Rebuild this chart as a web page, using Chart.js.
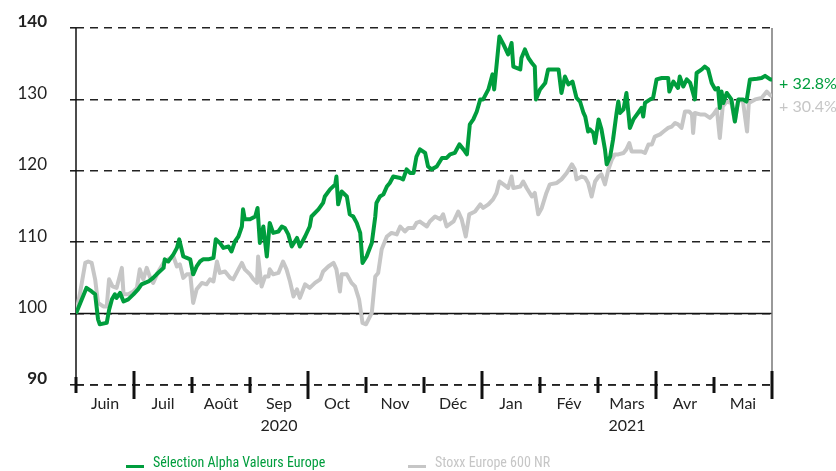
<!DOCTYPE html>
<html>
<head>
<meta charset="utf-8">
<script src="https://cdn.jsdelivr.net/npm/chart.js@4.4.1/dist/chart.umd.min.js"></script>
<style>
  html, body { margin: 0; padding: 0; background: #fff; }
  #wrap { position: relative; width: 836px; height: 471px; overflow: hidden; }
  #legend { position: absolute; left: 0; top: 454px; width: 836px; height: 22px;
            font-family: "Liberation Sans Narrow", "Roboto Condensed", "Liberation Sans", sans-serif; font-size: 14px; }
  .item { position: absolute; top: 0; white-space: nowrap; }
  .item i { display: inline-block; width: 18px; height: 3px; vertical-align: middle; margin-right: 9px; position: relative; top: 3px; }
</style>
</head>
<body>
<div id="wrap">
  <canvas id="myChart" width="836" height="471"></canvas>
  <div id="legend"></div>
</div>
<script>
// month labels between the month ticks (ticks sit at 0..12)
const months = ['Juin', 'Juil', 'Août', ['Sep', '2020'], 'Oct', 'Nov', 'Déc', 'Jan', 'Fév', ['Mars', '2021'], 'Avr', 'Mai'];
const quarterTicks = [1, 4, 7, 10, 12];
const yTicks = [90, 100, 110, 120, 130, 140];
const baseLine = 100;

const seriesNames = ['Sélection Alpha Valeurs Europe', 'Stoxx Europe 600 NR'];
const seriesColors = ['#009d3d', '#c6c6c6'];
const legendLeft = [126, 408];

// time in months since 1 June 2020
const alphaT = [0, 0.18, 0.27, 0.33, 0.38, 0.41, 0.53, 0.57, 0.62, 0.67, 0.70, 0.76, 0.82, 0.90, 0.99,
  1.07, 1.13, 1.25, 1.33, 1.39, 1.51, 1.53, 1.59, 1.68, 1.74, 1.78, 1.85, 1.91, 1.97,
  2.02, 2.08, 2.14, 2.19, 2.28, 2.37, 2.41, 2.48, 2.54, 2.63, 2.68, 2.74, 2.80, 2.86, 2.88, 2.91,
  3.00, 3.09, 3.13, 3.17, 3.23, 3.29, 3.34, 3.40, 3.49, 3.55, 3.60, 3.66, 3.72, 3.81, 3.86, 3.95,
  4.03, 4.06, 4.18, 4.26, 4.29, 4.38, 4.47, 4.49, 4.52, 4.58, 4.67, 4.72, 4.78, 4.84, 4.90, 4.94,
  5.01, 5.10, 5.16, 5.18, 5.24, 5.30, 5.36, 5.41, 5.47, 5.59, 5.64, 5.70, 5.76, 5.82, 5.87, 5.93,
  6.02, 6.07, 6.13, 6.22, 6.31, 6.39, 6.45, 6.53, 6.61, 6.68, 6.74, 6.79, 6.85, 6.91, 6.97,
  7.02, 7.11, 7.18, 7.21, 7.30, 7.37, 7.45, 7.51, 7.54, 7.66, 7.68, 7.74, 7.80, 7.86, 7.91, 7.93,
  8.00, 8.09, 8.14, 8.32, 8.37, 8.43, 8.49, 8.56, 8.63, 8.69, 8.75, 8.78, 8.83, 8.86, 8.92, 8.95,
  9.01, 9.06, 9.12, 9.15, 9.21, 9.26, 9.32, 9.35, 9.38, 9.44, 9.49, 9.55, 9.61, 9.69, 9.75, 9.78, 9.81, 9.90, 9.95,
  10.01, 10.10, 10.21, 10.23, 10.30, 10.38, 10.41, 10.47, 10.53, 10.59, 10.67, 10.70, 10.79, 10.84, 10.90, 10.96,
  11.02, 11.07, 11.10, 11.13, 11.16, 11.22, 11.30, 11.36, 11.42, 11.50, 11.56, 11.62, 11.74, 11.82, 11.88, 11.97, 12];
const alphaV = [100, 103.6, 103.1, 102.7, 99.2, 98.5, 98.7, 100.5, 102, 102.7, 102.2, 102.9, 101.7, 102, 102.7,
  103.4, 104.1, 104.5, 105, 105.5, 106.4, 107.6, 107.3, 108.3, 109.2, 110.4, 108, 107.8, 107.6,
  105.5, 106.6, 107.3, 107.6, 107.6, 107.8, 110.4, 109.9, 109.2, 109.4, 108.7, 110.1, 110.8, 112.2, 114.6, 113.2,
  113.2, 113.6, 114.8, 109.9, 112.2, 108, 112.7, 111.3, 111.5, 112.2, 112, 111.1, 109.4, 110.6, 109.4, 110.8,
  112.2, 113.6, 114.6, 115.5, 116.4, 117.4, 118.1, 119.2, 115.3, 117.1, 116.4, 113.9, 113.6, 112.7, 111.3, 107.1,
  108, 109.9, 113.6, 115.5, 116.4, 116.7, 117.8, 118.3, 119.2, 119, 118.8, 120.2, 119.7, 119.7, 122, 123,
  122.5, 120.6, 120.2, 120.6, 121.8, 121.8, 122.3, 122.5, 123.7, 123, 122.3, 126.5, 127.2, 128.3, 130,
  130, 131.4, 133.5, 131.4, 138.8, 137.7, 136.3, 137.9, 134.6, 134.2, 135.8, 137, 135.8, 135.1, 134.6, 130,
  131.4, 132.3, 134.2, 134.2, 130.9, 133.2, 132.1, 132.5, 130.2, 129.7, 128.1, 127.6, 125.5, 125.8, 125.3, 123.9,
  127.2, 125.8, 123, 120.9, 122, 124.4, 128.1, 129.7, 128.1, 128.6, 130.9, 126, 127.2, 128.1, 128.8, 127.6, 129.5, 130, 130.2,
  132.8, 133, 133, 131.1, 132.5, 131.6, 133.2, 131.8, 132.8, 132.3, 130, 133.7, 134.2, 134.6, 134.2, 132.3,
  131.4, 131.6, 128.8, 131.1, 129.5, 130.9, 130, 126.9, 130, 130, 129.7, 132.8, 132.9, 133, 133.3, 132.8, 132.8];

const stoxxT = [0, 0.07, 0.16, 0.21, 0.27, 0.33, 0.38, 0.47, 0.53, 0.57, 0.63, 0.70, 0.79, 0.82, 0.90, 0.99,
  1.05, 1.10, 1.16, 1.22, 1.28, 1.33, 1.42, 1.51, 1.59, 1.68, 1.74, 1.79, 1.85, 1.91, 1.97,
  2.02, 2.08, 2.17, 2.25, 2.31, 2.37, 2.43, 2.48, 2.57, 2.66, 2.71, 2.80, 2.86, 2.91,
  3.00, 3.06, 3.12, 3.14, 3.20, 3.26, 3.32, 3.34, 3.40, 3.49, 3.57, 3.63, 3.69, 3.75, 3.81, 3.86, 3.95,
  4.03, 4.12, 4.21, 4.26, 4.35, 4.44, 4.49, 4.55, 4.58, 4.67, 4.75, 4.81, 4.88, 4.94,
  5.00, 5.10, 5.16, 5.21, 5.27, 5.36, 5.44, 5.53, 5.59, 5.67, 5.73, 5.82, 5.87, 5.93, 5.96,
  6.05, 6.10, 6.19, 6.28, 6.33, 6.39, 6.51, 6.59, 6.65, 6.72, 6.78, 6.88, 6.97,
  7.02, 7.11, 7.19, 7.25, 7.30, 7.37, 7.45, 7.51, 7.54, 7.66, 7.71, 7.77, 7.86, 7.91, 7.97,
  8.03, 8.11, 8.17, 8.29, 8.37, 8.46, 8.55, 8.60, 8.63, 8.72, 8.78, 8.83, 8.89, 8.95,
  9.01, 9.06, 9.12, 9.18, 9.24, 9.29, 9.35, 9.44, 9.49, 9.54, 9.58, 9.67, 9.75, 9.81, 9.87, 9.93, 9.98,
  10.07, 10.13, 10.21, 10.27, 10.33, 10.38, 10.44, 10.50, 10.57, 10.62, 10.64, 10.67, 10.76, 10.84, 10.93, 10.99,
  11.05, 11.10, 11.15, 11.22, 11.30, 11.36, 11.42, 11.50, 11.57, 11.60, 11.71, 11.82, 11.91, 11.97, 12];
const stoxxV = [100, 102.9, 107.1, 107.3, 107.1, 104.8, 101.5, 101, 101, 104.8, 103.8, 103.6, 106.4, 102.7, 102.7, 103.1,
  103.6, 106.2, 104.8, 106.4, 105, 104.3, 105.9, 107.1, 107.6, 108, 106.6, 106.9, 105, 105.5, 105.5,
  101.5, 103.4, 104.3, 104.1, 104.8, 104.5, 107.3, 105.7, 105.9, 105, 104.8, 106.2, 107.1, 106.2,
  105.5, 104.8, 104.3, 108, 103.8, 105.2, 105.2, 106.2, 105.5, 105.7, 107.3, 106.2, 104.5, 102.4, 103.4, 102.2, 104.1,
  103.6, 104.3, 104.8, 105.9, 106.6, 107.1, 106.2, 103.1, 105.5, 105.5, 104.3, 103.8, 102, 98.7,
  98.5, 100.1, 105.2, 105.7, 109, 110.8, 111.3, 111.1, 112.2, 111.5, 112, 112, 112.7, 112.9, 112.7,
  112.2, 112.9, 113.6, 113.2, 113.9, 112.2, 112.9, 114.3, 113.2, 110.8, 113.9, 114.3, 115.3,
  114.8, 115.3, 116, 116.9, 118.5, 118.1, 117.6, 119.2, 117.6, 117.8, 118.5, 117.6, 116.4, 116.9, 113.9,
  114.8, 116.9, 118.1, 118.3, 118.8, 119.7, 120.9, 120.2, 118.8, 119.2, 119, 118.3, 116.4, 118.5,
  119.2, 119.5, 118.1, 120.2, 121.6, 122.3, 122.3, 122.5, 123, 123.9, 122.7, 122.7, 122.7, 122.5, 123.7, 123.7, 124.8,
  125.1, 125.5, 126, 126.2, 126.7, 126.5, 126, 128.3, 128.3, 127.9, 125.3, 128.1, 127.9, 127.9, 127.4, 127.9,
  128.6, 124.6, 129, 129.7, 129.5, 126.9, 130, 129.7, 125.5, 129.5, 130, 130.2, 131.1, 130.6, 130.4];

const font = 'Lato, "Open Sans", sans-serif';

function seg(ctx, x1, y1, x2, y2) {
  ctx.beginPath(); ctx.moveTo(x1, y1); ctx.lineTo(x2, y2); ctx.stroke();
}

const frame = {
  id: 'frame',
  beforeDatasetsDraw(chart) {
    const {ctx, chartArea: a, scales: {x, y}} = chart;
    ctx.save();
    // dashed line along the bottom (90)
    ctx.strokeStyle = '#222';
    ctx.lineWidth = 1.6;
    ctx.setLineDash([8, 6]);
    seg(ctx, a.left, a.bottom, a.right, a.bottom);
    ctx.setLineDash([]);
    ctx.strokeStyle = '#111';
    ctx.lineWidth = 1.5;
    const yb = y.getPixelForValue(baseLine);
    seg(ctx, a.left, yb, a.right, yb);
    seg(ctx, a.left, a.top, a.left, a.bottom + 7);
    ctx.strokeStyle = '#777';
    seg(ctx, a.right, a.top, a.right, a.bottom + 8);
    ctx.strokeStyle = '#111';
    for (let i = 0; i <= months.length; i++) {
      const px = x.getPixelForValue(i);
      const h = quarterTicks.includes(i) ? 14 : 8;
      ctx.lineWidth = 3;
      seg(ctx, px, a.bottom - h, px, a.bottom + h);
    }
    ctx.restore();
  },
  afterDatasetsDraw(chart) {
    const {ctx, chartArea: a, scales: {y}} = chart;
    ctx.save();
    ctx.font = '16px ' + font;
    ctx.textBaseline = 'middle';
    let prev = -Infinity;
    chart.data.datasets.forEach((ds, i) => {
      const last = ds.data[ds.data.length - 1].y;
      let py = Math.max(y.getPixelForValue(last) + 4, prev + 23);
      prev = py;
      ctx.fillStyle = seriesColors[i];
      ctx.fillText('+ ' + (last - baseLine).toFixed(1) + '%', a.right + 7, py);
    });
    ctx.restore();
  }
};

const ctx = document.getElementById('myChart');

new Chart(ctx, {
  type: 'line',
  data: {
    datasets: [
      { label: seriesNames[0], data: alphaT.map((t, i) => ({x: t, y: alphaV[i]})),
        borderColor: seriesColors[0], borderWidth: 4, borderJoinStyle: 'round', pointRadius: 0, tension: 0 },
      { label: seriesNames[1], data: stoxxT.map((t, i) => ({x: t, y: stoxxV[i]})),
        borderColor: seriesColors[1], borderWidth: 4, borderJoinStyle: 'round', pointRadius: 0, tension: 0 }
    ]
  },
  options: {
    responsive: false,
    animation: false,
    layout: { padding: { left: 0, right: 64, top: 28, bottom: 26 } },
    plugins: { legend: { display: false }, tooltip: { enabled: false } },
    scales: {
      x: {
        type: 'linear', min: 0, max: months.length,
        afterBuildTicks: (axis) => { axis.ticks = months.map((m, i) => ({value: i + 0.5})); },
        afterFit: (axis) => { axis.height = 60; },
        grid: { display: false, drawTicks: false },
        border: { display: false },
        ticks: {
          autoSkip: false, maxRotation: 0, padding: 8, color: '#222',
          font: { family: font, size: 16, lineHeight: 1.375 },
          callback: (v, i) => months[i]
        }
      },
      y: {
        min: yTicks[0], max: yTicks[yTicks.length - 1],
        afterBuildTicks: (axis) => { axis.ticks = yTicks.map(v => ({value: v})); },
        afterFit: (axis) => { axis.width = 76; axis.paddingTop = 0; axis.paddingBottom = 0; },
        border: { display: false, dash: [8, 6] },
        grid: { color: '#222', lineWidth: 1.6, tickLength: 6, tickColor: '#111', tickWidth: 1.5 },
        ticks: {
          padding: 23, labelOffset: -6, color: '#222',
          font: (c) => ({ family: font, size: 17,
            weight: (c.tick && (c.tick.value === yTicks[0] || c.tick.value === yTicks[yTicks.length - 1])) ? 'bold' : 'normal' })
        }
      }
    }
  },
  plugins: [frame]
});

const legend = document.getElementById('legend');
seriesNames.forEach((name, i) => {
  const el = document.createElement('span');
  el.className = 'item';
  el.style.left = legendLeft[i] + 'px';
  el.style.color = seriesColors[i];
  el.innerHTML = '<i style="background:' + seriesColors[i] + '"></i>' + name;
  legend.appendChild(el);
});
</script>
</body>
</html>
